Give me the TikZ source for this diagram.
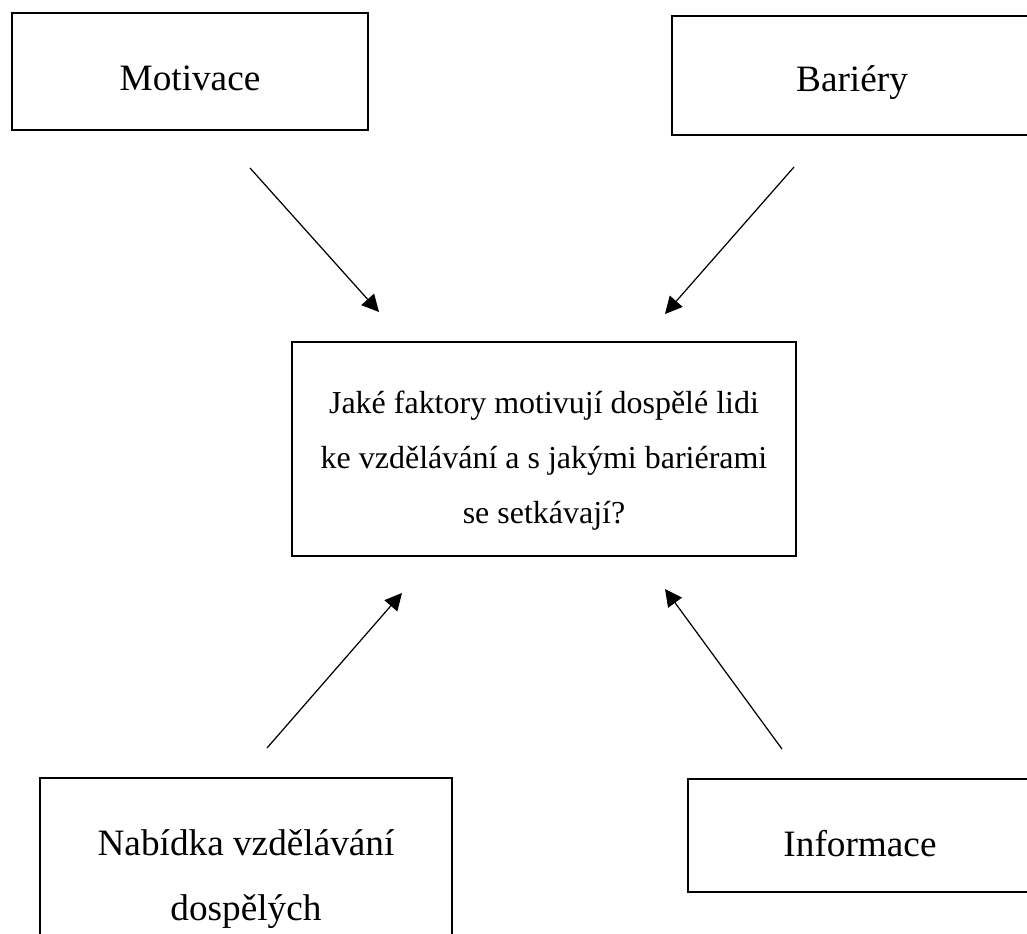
\documentclass[tikz,border=0pt]{standalone}
\usepackage{fontspec}
\setmainfont{Liberation Serif}
\usepackage{tikz}
\usetikzlibrary{arrows.meta}

\begin{document}
\begin{tikzpicture}[x=0.02cm,y=-0.02cm,
  box/.style={draw,line width=0.8pt,inner sep=0pt,align=center},
  outer/.style={box,font=\fontsize{21.2}{37}\selectfont},
  link/.style={line width=0.7pt,-{Triangle[length=0.34cm,width=0.34cm]}}]

  \useasboundingbox (0,0) rectangle (1027,933);
  \clip (0,0) rectangle (1027,933);

 % ================================================================
 % question
 % ================================================================
  \node[box,font=\fontsize{18.2}{31.3}\selectfont,minimum width=10.08cm,minimum height=4.28cm] (otazka) at (544,449)
    {\rule{0pt}{0.9cm}Jaké faktory motivují dospělé lidi\\ke vzdělávání a s jakými bariérami\\se setkávají?};

  % top boxes
  \node[outer,minimum width=7.12cm,minimum height=2.34cm] (motivace) at (190,71.5) {\rule{0pt}{0.78cm}Motivace};
  \node[outer,minimum width=7.2cm,minimum height=2.38cm] (bariery) at (852,75.5) {\rule{0pt}{0.82cm}Bariéry};

  % bottom boxes
  \node[outer,minimum width=8.24cm,minimum height=4.04cm] (nabidka) at (246,879) {Nabídka vzdělávání\\dospělých};
  \node[outer,minimum width=6.88cm,minimum height=2.26cm] (informace) at (860,835.5) {\rule{0pt}{0.86cm}Informace};

  % arrow ends
  \coordinate (mot-a) at (250,168);
  \coordinate (mot-b) at (379,312);
  \coordinate (bar-a) at (794,167);
  \coordinate (bar-b) at (665,314);
  \coordinate (nab-a) at (267,748);
  \coordinate (nab-b) at (402,593);
  \coordinate (inf-a) at (782,749);
  \coordinate (inf-b) at (665,589);

  % arrows to the question
  \draw[link] (mot-a) -- (mot-b);
  \draw[link] (bar-a) -- (bar-b);
  \draw[link] (nab-a) -- (nab-b);
  \draw[link] (inf-a) -- (inf-b);

\end{tikzpicture}
\end{document}
